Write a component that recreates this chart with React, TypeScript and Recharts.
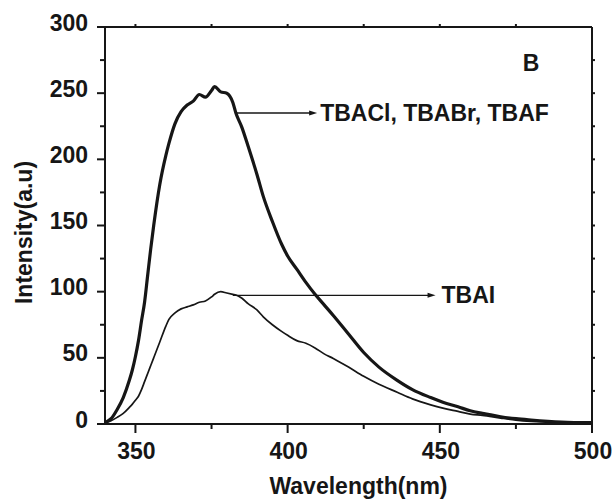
import React from "react";
import {
  LineChart,
  Line,
  XAxis,
  YAxis,
  ReferenceLine,
  ReferenceDot,
} from "recharts";

const WAVELENGTH = [
  340, 342, 344, 346, 348, 349, 350, 351, 352, 353, 354, 355, 356, 358, 360,
  361, 363, 365, 367, 369, 371, 373, 375, 376, 378, 380, 382, 383, 385, 387,
  390, 392, 395, 398, 400, 403, 406, 409, 412, 415, 420, 425, 430, 436, 441,
  447, 451, 456, 460, 464, 470, 475, 480, 490, 500,
];

// TBACl, TBABr, TBAF (overlapping, thick trace)
const HALIDE = [
  1, 4, 11, 20, 33, 41, 51, 63, 78, 92, 112, 132, 150, 181, 203,
  212, 227, 236, 241, 244, 249, 247, 252, 255, 251, 250, 243, 235, 224, 210,
  188, 172, 153, 136, 127, 117, 107, 98, 90, 82, 68, 54, 43, 33, 26,
  20, 16.5, 13, 10, 8, 5.5, 4, 3, 1.5, 1,
];

// TBAI (thin trace)
const IODIDE = [
  1, 2.5, 5, 8, 12.5, 15, 18, 21, 26, 32, 38, 44, 50, 62, 74,
  79, 84, 87, 88.5, 90, 92, 93, 96, 98, 100, 99, 98, 97.5, 95, 91,
  86, 81, 75, 70, 67, 63, 61, 57.5, 53, 49.5, 43, 36, 30, 24, 19,
  14.5, 12, 9.5, 7.5, 6.5, 4.5, 3, 2, 1, 0.5,
];

const X_TICKS = [350, 375, 400, 425, 450, 475, 500];
const Y_TICKS = [0, 25, 50, 75, 100, 125, 150, 175, 200, 225, 250, 275, 300];
const TOP_TICKS = [350, 375, 400, 425, 450, 475];
const RIGHT_TICKS = [25, 50, 75, 100, 125, 150, 175, 200, 225, 250, 275];

const HALIDE_ARROW = { from: 383.3, to: 409.7, at: 235, text: "TBACl, TBABr, TBAF" };
const IODIDE_ARROW = { from: 382, to: 448.6, at: 97.2, text: "TBAI" };
const PANEL = { x: 480, y: 273, text: "B" };

const INK = "#161616";
const FONT = "'Liberation Sans', Arial, sans-serif";
const FS = 23;

const data = WAVELENGTH.map((w, i) => ({ w, halide: HALIDE[i], iodide: IODIDE[i] }));

function BottomTick({ x, y, payload }: any) {
  const major = payload.value % 50 === 0;
  return (
    <g>
      <line x1={x} x2={x} y1={y} y2={y + (major ? 9 : 5)} stroke={INK} strokeWidth={2} />
      {major && (
        <text x={x + 1} y={y + 35} textAnchor="middle" fontSize={FS} fontWeight="bold" fontFamily={FONT} fill={INK}>
          {payload.value}
        </text>
      )}
    </g>
  );
}

function LeftTick({ x, y, payload }: any) {
  const major = payload.value % 50 === 0;
  return (
    <g>
      <line x1={x - (major ? 8 : 5)} x2={x} y1={y} y2={y} stroke={INK} strokeWidth={2} />
      {major && (
        <text x={x - 17} y={y + 3.5} textAnchor="end" fontSize={FS} fontWeight="bold" fontFamily={FONT} fill={INK}>
          {payload.value}
        </text>
      )}
    </g>
  );
}

function TopTick({ x, y }: any) {
  return <line x1={x} x2={x} y1={y} y2={y - 3} stroke={INK} strokeWidth={2} />;
}

function RightTick({ x, y }: any) {
  return <line x1={x} x2={x + 3} y1={y} y2={y} stroke={INK} strokeWidth={2} />;
}

function arrowShape(text: string, gap: number) {
  return (p: any) => (
    <g>
      <line x1={p.x1} y1={p.y1} x2={p.x2 - 4} y2={p.y2} stroke={INK} strokeWidth={1.3} />
      <polygon points={`${p.x2},${p.y2} ${p.x2 - 8},${p.y2 - 2.5} ${p.x2 - 8},${p.y2 + 2.5}`} fill={INK} />
      <text x={p.x2 + gap} y={p.y2} dominantBaseline="central" fontSize={FS} fontWeight="bold" fontFamily={FONT} fill={INK}>
        {text}
      </text>
    </g>
  );
}

function XLabel({ viewBox }: any) {
  return (
    <text x={viewBox.x + viewBox.width / 2 + 10} y={494} textAnchor="middle" fontSize={FS} fontWeight="bold" fontFamily={FONT} fill={INK}>
      Wavelength(nm)
    </text>
  );
}

function YLabel({ viewBox }: any) {
  const cx = 24;
  const cy = viewBox.y + viewBox.height / 2 + 7;
  return (
    <text x={cx} y={cy} transform={`rotate(-90 ${cx} ${cy})`} textAnchor="middle" dominantBaseline="central" fontSize={FS} fontWeight="bold" fontFamily={FONT} fill={INK}>
      Intensity(a.u)
    </text>
  );
}

export default function App() {
  return (
    <div style={{ position: "absolute", left: 0, top: 0, width: 616, height: 500, background: "#fff" }}>
      <LineChart width={616} height={500} data={data} margin={{ top: 26, right: 23, bottom: 46, left: 45 }}>
        <XAxis
          xAxisId="b"
          dataKey="w"
          type="number"
          domain={[340, 500]}
          ticks={X_TICKS}
          interval={0}
          height={30}
          tickSize={0}
          tickMargin={0}
          tickLine={false}
          tick={<BottomTick />}
          axisLine={{ stroke: INK, strokeWidth: 2 }}
          label={<XLabel />}
        />
        <XAxis
          xAxisId="t"
          orientation="top"
          dataKey="w"
          type="number"
          domain={[340, 500]}
          ticks={TOP_TICKS}
          interval={0}
          height={1}
          tickSize={0}
          tickMargin={0}
          tickLine={false}
          tick={<TopTick />}
          axisLine={{ stroke: INK, strokeWidth: 2 }}
        />
        <YAxis
          yAxisId="l"
          type="number"
          domain={[0, 300]}
          ticks={Y_TICKS}
          interval={0}
          width={60}
          tickSize={0}
          tickMargin={0}
          tickLine={false}
          tick={<LeftTick />}
          axisLine={{ stroke: INK, strokeWidth: 2 }}
          label={<YLabel />}
        />
        <YAxis
          yAxisId="r"
          orientation="right"
          type="number"
          domain={[0, 300]}
          ticks={RIGHT_TICKS}
          interval={0}
          width={1}
          tickSize={0}
          tickMargin={0}
          tickLine={false}
          tick={<RightTick />}
          axisLine={{ stroke: INK, strokeWidth: 2 }}
        />
        <Line xAxisId="b" yAxisId="l" type="monotone" dataKey="iodide" stroke={INK} strokeWidth={1.7} dot={false} isAnimationActive={false} />
        <Line xAxisId="t" yAxisId="r" type="monotone" dataKey="halide" stroke={INK} strokeWidth={3.2} dot={false} isAnimationActive={false} />
        <ReferenceLine
          xAxisId="b"
          yAxisId="l"
          segment={[{ x: HALIDE_ARROW.from, y: HALIDE_ARROW.at }, { x: HALIDE_ARROW.to, y: HALIDE_ARROW.at }]}
          shape={arrowShape(HALIDE_ARROW.text, 3)}
          ifOverflow="visible"
        />
        <ReferenceLine
          xAxisId="b"
          yAxisId="l"
          segment={[{ x: IODIDE_ARROW.from, y: IODIDE_ARROW.at }, { x: IODIDE_ARROW.to, y: IODIDE_ARROW.at }]}
          shape={arrowShape(IODIDE_ARROW.text, 6)}
          ifOverflow="visible"
        />
        <ReferenceDot
          xAxisId="b"
          yAxisId="l"
          x={PANEL.x}
          y={PANEL.y}
          r={0}
          ifOverflow="visible"
          shape={(p: any) => (
            <text x={p.cx} y={p.cy} textAnchor="middle" dominantBaseline="central" fontSize={FS} fontWeight="bold" fontFamily={FONT} fill={INK}>
              {PANEL.text}
            </text>
          )}
        />
      </LineChart>
    </div>
  );
}
